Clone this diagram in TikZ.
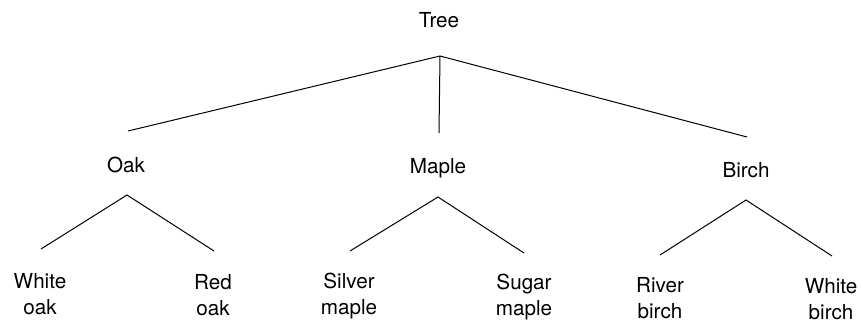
\documentclass[tikz,border=0pt]{standalone}
\usepackage{fontspec}
\setmainfont{TeX Gyre Heros}

\tikzset{every picture/.style={line width=0.75pt}}
\tikzset{treelabel/.style={align=center,inner sep=0pt,font=\fontsize{15.5pt}{19.5pt}\selectfont}}

\begin{document}
\begin{tikzpicture}[x=0.75pt,y=0.75pt,yscale=-1,xscale=1]
	%set diagram left start at 0, and has height of 322
	\useasboundingbox (0,0) rectangle (863,322);

	% Text Node
	\node[treelabel] (tree) at (439,20) {Tree};
	% Text Node
	\node[treelabel] (oak) at (126,165) {Oak};
	% Text Node
	\node[treelabel] (maple) at (438,168) {Maple};
	% Text Node
	\node[treelabel] (birch) at (746,170) {Birch};
	% Text Node
	\node[treelabel] (whiteoak) at (40,294) {White\\oak};
	% Text Node
	\node[treelabel] (redoak) at (213,295) {Red\\oak};
	% Text Node
	\node[treelabel] (silvermaple) at (349,296) {Silver\\maple};
	% Text Node
	\node[treelabel] (sugarmaple) at (524,297) {Sugar\\maple};
	% Text Node
	\node[treelabel] (riverbirch) at (660,298) {River\\birch};
	% Text Node
	\node[treelabel] (whitebirch) at (831,299) {White\\birch};

	%Joints and line ends
	\coordinate (treejoin) at (440,56);
	\coordinate (oaktop) at (128,131);
	\coordinate (mapletop) at (439,133);
	\coordinate (birchtop) at (747,137);
	\coordinate (oakjoin) at (127,195);
	\coordinate (whiteoaktop) at (41,249);
	\coordinate (redoaktop) at (214,251);
	\coordinate (maplejoin) at (438,197);
	\coordinate (silvermapletop) at (350,251);
	\coordinate (sugarmapletop) at (524,253);
	\coordinate (birchjoin) at (746,200);
	\coordinate (riverbirchtop) at (660,255);
	\coordinate (whitebirchtop) at (832,256);

	%Straight Lines
	\draw (treejoin) -- (oaktop);
	\draw (treejoin) -- (mapletop);
	\draw (treejoin) -- (birchtop);
	%Straight Lines
	\draw (whiteoaktop) -- (oakjoin) -- (redoaktop);
	\draw (silvermapletop) -- (maplejoin) -- (sugarmapletop);
	\draw (riverbirchtop) -- (birchjoin) -- (whitebirchtop);

\end{tikzpicture}
\end{document}
